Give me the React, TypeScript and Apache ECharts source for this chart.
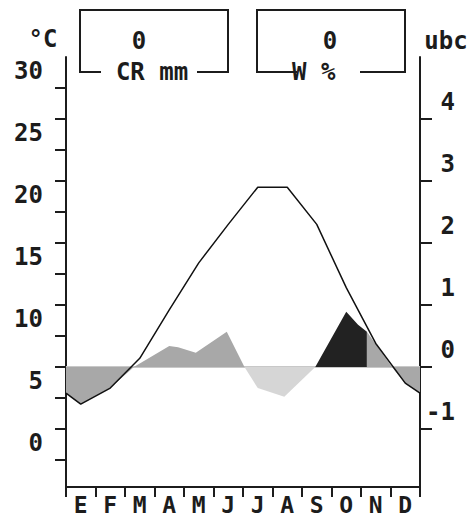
import React, { useEffect, useRef } from 'react';
import * as echarts from 'echarts';

// Month initials (Spanish)
const months = ['E', 'F', 'M', 'A', 'M', 'J', 'J', 'A', 'S', 'O', 'N', 'D'];

// Mean monthly temperature, °C (plotted at month centres)
const temperatureC = [4.5, 5.8, 8.2, 12.1, 15.9, 19.0, 22.0, 22.0, 19.0, 13.9, 9.4, 6.2];
// Value of the curve where the year wraps (left and right edges)
const temperatureYearEdgeC = 5.4;

// Left axis ticks / labels (°C)
const tempTicks = [0, 2.5, 5, 7.5, 10, 12.5, 15, 17.5, 20, 22.5, 25, 27.5, 30];
const tempLabels = [0, 5, 10, 15, 20, 25, 30];
// Right axis ticks / labels (ubc)
const ubcTicks = [-1, 0, 1, 2, 3, 4];

// Fill outlines as [month position, ubc]
const greyWinterSpring = [
  [0, -0.42], [0.5, -0.6], [1.5, -0.34], [2.3, 0], [3.5, 0.34], [3.8, 0.32],
  [4.4, 0.23], [5.45, 0.57], [6.05, 0],
];
const lightSummer = [[6.05, 0], [6.5, -0.34], [7.4, -0.48], [8.45, 0]];
const blackAutumn = [[8.45, 0], [9.5, 0.89], [9.9, 0.68], [10.2, 0.57], [10.2, 0]];
const greyLateAutumn = [[10.2, 0.57], [11.05, 0], [11.5, -0.27], [12, -0.42]];

// Box values
const crLabel = 'CR mm';
const crValue = '0';
const wLabel = 'W %';
const wValue = '0';

const FONT = 'DejaVu Sans Mono';
const INK = '#1c1c1c';

export default function App() {
  const ref = useRef<HTMLDivElement>(null);

  useEffect(() => {
    document.body.style.margin = '0';
    const chart = echarts.init(ref.current!, null, { renderer: 'svg' });

    const tempLine: number[][] = [[0, temperatureYearEdgeC]];
    temperatureC.forEach((t, i) => tempLine.push([i + 0.5, t]));
    tempLine.push([months.length, temperatureYearEdgeC]);

    const fill = (data: number[][], color: string) => ({
      type: 'line',
      xAxisIndex: 1,
      yAxisIndex: 1,
      data,
      symbol: 'none',
      lineStyle: { width: 0, color },
      areaStyle: { color, opacity: 1 },
      z: 2,
    });

    const labelFont = { fontFamily: FONT, fontWeight: 'bold', fontSize: 24, color: INK };
    const axisLine = { show: true, onZero: false, lineStyle: { color: INK, width: 2 } };

    const option: any = {
      animation: false,
      backgroundColor: '#ffffff',
      grid: { left: 66, right: 50, top: 57, bottom: 26 },
      xAxis: [
        {
          type: 'category',
          data: months,
          boundaryGap: true,
          position: 'bottom',
          offset: -4,
          axisLine,
          axisTick: { show: true, interval: 0, length: 10, lineStyle: { color: INK, width: 2 } },
          axisLabel: { interval: 0, margin: 8, ...labelFont, fontSize: 23, lineHeight: 19 },
          splitLine: { show: false },
        },
        { type: 'value', min: 0, max: 12, show: false },
      ],
      yAxis: [
        {
          type: 'value',
          position: 'left',
          min: -2.5,
          max: 32.5,
          axisLine,
          axisTick: { show: true, length: 11, customValues: tempTicks, lineStyle: { color: INK, width: 2 } },
          axisLabel: {
            customValues: tempLabels,
            margin: 23,
            verticalAlign: 'bottom',
            padding: [0, 0, 5, 0],
            ...labelFont,
          },
          splitLine: { show: false },
        },
        {
          type: 'value',
          position: 'right',
          min: -2,
          max: 5,
          axisLine,
          axisTick: { show: true, length: 12, customValues: ubcTicks, lineStyle: { color: INK, width: 2 } },
          axisLabel: {
            customValues: ubcTicks,
            margin: 35,
            align: 'right',
            verticalAlign: 'bottom',
            padding: [0, 0, 5, 0],
            ...labelFont,
          },
          splitLine: { show: false },
        },
      ],
      series: [
        {
          type: 'line',
          xAxisIndex: 1,
          yAxisIndex: 1,
          data: [[0, 0], [12, 0]],
          symbol: 'none',
          lineStyle: { color: '#c8c8c8', width: 2 },
          z: 1,
        },
        fill(greyWinterSpring, '#a8a8a8'),
        fill(lightSummer, '#d6d6d6'),
        fill(blackAutumn, '#222222'),
        fill(greyLateAutumn, '#a8a8a8'),
        {
          type: 'line',
          name: 'Temperatura',
          xAxisIndex: 1,
          yAxisIndex: 0,
          data: tempLine,
          symbol: 'none',
          lineStyle: { color: '#111111', width: 1.5 },
          z: 5,
        },
      ],
      graphic: [
        {
          type: 'polyline',
          shape: { points: [[101, 72], [80, 72], [80, 10], [228, 10], [228, 72], [197, 72]] },
          style: { stroke: INK, lineWidth: 2, fill: null },
        },
        {
          type: 'polyline',
          shape: { points: [[297, 72], [257, 72], [257, 10], [405, 10], [405, 72], [360, 72]] },
          style: { stroke: INK, lineWidth: 2, fill: null },
        },
        {
          type: 'text', x: 43, y: 39,
          style: { text: '°C', font: `bold 24px ${FONT}`, fill: INK, textAlign: 'center', textVerticalAlign: 'middle' },
        },
        {
          type: 'text', x: 446, y: 41,
          style: { text: 'ubc', font: `bold 24px ${FONT}`, fill: INK, textAlign: 'center', textVerticalAlign: 'middle' },
        },
        {
          type: 'text', x: 139, y: 41,
          style: { text: crValue, font: `bold 24px ${FONT}`, fill: INK, textAlign: 'center', textVerticalAlign: 'middle' },
        },
        {
          type: 'text', x: 152, y: 72,
          style: { text: crLabel, font: `bold 24px ${FONT}`, fill: INK, textAlign: 'center', textVerticalAlign: 'middle' },
        },
        {
          type: 'text', x: 330, y: 41,
          style: { text: wValue, font: `bold 24px ${FONT}`, fill: INK, textAlign: 'center', textVerticalAlign: 'middle' },
        },
        {
          type: 'text', x: 292, y: 72,
          style: { text: wLabel, font: `bold 24px ${FONT}`, fill: INK, textAlign: 'left', textVerticalAlign: 'middle' },
        },
      ],
    };

    chart.setOption(option);
    return () => chart.dispose();
  }, []);

  return <div ref={ref} style={{ width: 470, height: 517 }} />;
}
